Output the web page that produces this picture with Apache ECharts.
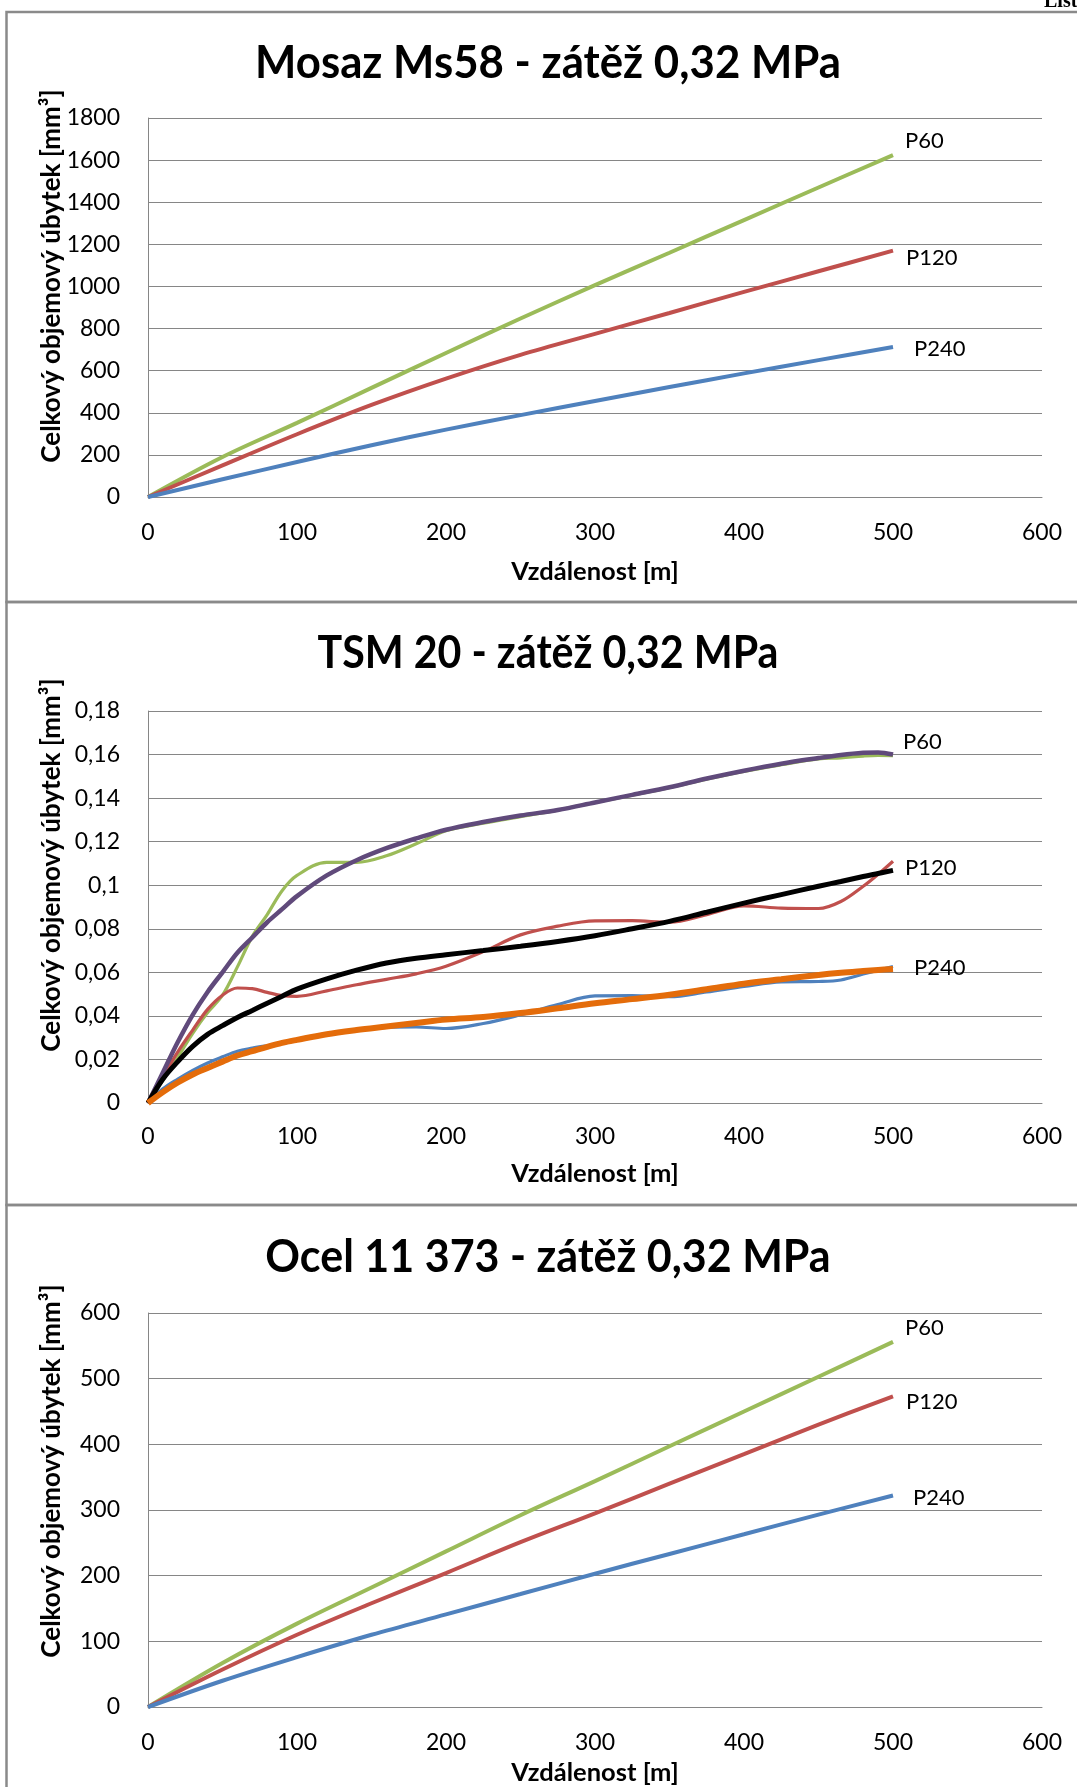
<!DOCTYPE html>
<html>
<head>
<meta charset="utf-8">
<script src="https://cdn.jsdelivr.net/npm/echarts/dist/echarts.min.js"></script>
<style>
  html, body { margin: 0; padding: 0; background: #ffffff; }
  #chart { width: 1077px; height: 1787px; }
</style>
</head>
<body>
<div id="chart"></div>
<script>
// Distances [m] for the brass and steel measurements
const dist = [0, 50, 100, 150, 200, 250, 300, 350, 400, 450, 500];

// Mosaz Ms58 – cumulative volume loss [mm³]
const mosazP60  = [0, 190, 352, 518, 684, 848, 1006, 1160, 1315, 1470, 1624];
const mosazP120 = [0, 150, 298, 437, 562, 675, 775, 874, 974, 1072, 1170];
const mosazP240 = [0, 84, 166, 246, 320, 389, 456, 522, 587, 650, 712];

// Ocel 11 373 – cumulative volume loss [mm³]
const ocelP60  = [0, 67, 127, 182, 237, 292, 344, 397, 450, 503, 556];
const ocelP120 = [0, 57, 110, 158, 204, 251, 295, 340, 385, 430, 473];
const ocelP240 = [0, 40, 76, 110, 141, 172, 203, 233, 263, 293, 322];

// TSM 20 – distances [m]
const tsmDist = [0, 10, 20, 30, 40, 50, 60, 70, 80, 90, 100, 120, 140, 160, 180, 200,
                 225, 250, 275, 300, 325, 350, 375, 400, 425, 450, 465, 480, 490, 500];
// TSM 20 – measured loss [mm³]
const tsmP60  = [0, 0.0105, 0.021, 0.032, 0.0415, 0.0495, 0.0625, 0.0765, 0.0865, 0.0975, 0.1045,
                 0.1105, 0.1105, 0.1135, 0.119, 0.125, 0.1285, 0.1315, 0.1345, 0.138, 0.1413,
                 0.1448, 0.1487, 0.1523, 0.1553, 0.158, 0.1585, 0.1593, 0.1596, 0.1595];
const tsmP120 = [0, 0.012, 0.0235, 0.0335, 0.043, 0.0495, 0.0528, 0.0525, 0.0508, 0.0493, 0.049,
                 0.0515, 0.0543, 0.0568, 0.0593, 0.0628, 0.0695, 0.0772, 0.0812, 0.0836, 0.0837,
                 0.083, 0.0865, 0.0905, 0.0895, 0.0893, 0.0925, 0.0995, 0.105, 0.111];
const tsmP240 = [0, 0.0065, 0.011, 0.015, 0.0184, 0.0212, 0.0238, 0.0252, 0.0263, 0.0273, 0.0288,
                 0.0316, 0.0336, 0.0347, 0.0349, 0.0342, 0.0365, 0.0405, 0.0452, 0.0492, 0.0493,
                 0.0488, 0.051, 0.0535, 0.0556, 0.0558, 0.0565, 0.0592, 0.061, 0.0627];
// TSM 20 – fitted trend curves [mm³]
const tsmFitP60  = [0, 0.014, 0.028, 0.0405, 0.051, 0.06, 0.069, 0.076, 0.083, 0.089, 0.095,
                    0.1045, 0.1115, 0.117, 0.1215, 0.1255, 0.129, 0.132, 0.1345, 0.138, 0.1415,
                    0.145, 0.149, 0.1526, 0.1558, 0.1584, 0.1598, 0.1608, 0.161, 0.16];
const tsmFitP120 = [0, 0.011, 0.019, 0.026, 0.0315, 0.0355, 0.0393, 0.0425, 0.0458, 0.049, 0.0523,
                    0.057, 0.061, 0.0643, 0.0665, 0.0681, 0.07, 0.072, 0.0742, 0.0768, 0.08,
                    0.0834, 0.0876, 0.0918, 0.0957, 0.0995, 0.1017, 0.104, 0.1054, 0.1068];
const tsmFitP240 = [0, 0.005, 0.0094, 0.0131, 0.0161, 0.019, 0.0218, 0.0238, 0.0258, 0.0276, 0.029,
                    0.0316, 0.0335, 0.0351, 0.0367, 0.0383, 0.0395, 0.0413, 0.0435, 0.0458, 0.0477,
                    0.0497, 0.0522, 0.0548, 0.0568, 0.0588, 0.0598, 0.0606, 0.0611, 0.0615];

// Axis ranges
const xMax = 600, xStep = 100;
const mosazYMax = 1800, mosazYStep = 200;
const tsmYMax = 0.18, tsmYStep = 0.02;
const ocelYMax = 600, ocelYStep = 100;

const titles = ['Mosaz Ms58 - zátěž 0,32 MPa', 'TSM 20 - zátěž 0,32 MPa', 'Ocel 11 373 - zátěž 0,32 MPa'];
const yTitle = 'Celkový objemový úbytek [mm³]';
const xTitle = 'Vzdálenost [m]';

const GREEN = '#9BBB59', RED = '#C0504D', BLUE = '#4F81BD';
const PURPLE = '#604A7B', ORANGE = '#E46C0A', BLACK = '#000000';
const GRID_COLOR = '#868686';
const FONT = 'Lato';

const grids = [
  { left: 148, top: 118, width: 894, height: 379 },
  { left: 148, top: 711, width: 894, height: 392 },
  { left: 148, top: 1313, width: 894, height: 398 }
];

function pairs(xs, ys) { return xs.map((x, i) => [x, ys[i]]); }

function xAxisFor(i, labelMargin, nameGap) {
  return {
    type: 'value', gridIndex: i, min: 0, max: xMax, interval: xStep,
    name: xTitle, nameLocation: 'middle', nameGap: nameGap,
    nameTextStyle: { fontFamily: FONT, fontWeight: 'bold', fontSize: 25.5, color: '#000' },
    axisLine: { show: true, onZero: false, lineStyle: { color: GRID_COLOR, width: 1 } },
    axisTick: { show: false },
    axisLabel: { fontFamily: FONT, fontSize: 23, color: '#000', margin: labelMargin },
    splitLine: { show: false }
  };
}

function yAxisFor(i, max, step, formatter) {
  return {
    type: 'value', gridIndex: i, min: 0, max: max, interval: step,
    axisLine: { show: true, lineStyle: { color: GRID_COLOR, width: 1 } },
    axisTick: { show: false },
    axisLabel: { fontFamily: FONT, fontSize: 23, color: '#000', margin: 28, formatter: formatter },
    splitLine: { show: true, lineStyle: { color: GRID_COLOR, width: 1 } }
  };
}

function endTag(text, dx, dy) {
  return {
    show: true, formatter: text, color: '#000', fontFamily: FONT, fontSize: 22,
    distance: 0, offset: [dx, dy]
  };
}

function line(name, axis, xs, ys, color, width, z, tag) {
  const s = {
    name: name, type: 'line', xAxisIndex: axis, yAxisIndex: axis,
    data: pairs(xs, ys), showSymbol: false, symbol: 'none', smooth: 0.35,
    lineStyle: { color: color, width: width }, itemStyle: { color: color }, z: z
  };
  if (tag) s.endLabel = tag;
  return s;
}

const plainFmt = v => String(v);
const commaFmt = v => v === 0 ? '0' : String(Math.round(v * 100) / 100).replace('.', ',');

const series = [
  // Mosaz Ms58
  line('P60', 0, dist, mosazP60, GREEN, 4, 3, endTag('P60', 12, -14)),
  line('P120', 0, dist, mosazP120, RED, 4, 3, endTag('P120', 13, 7)),
  line('P240', 0, dist, mosazP240, BLUE, 4, 3, endTag('P240', 21, 2)),
  // TSM 20 – measured
  line('P60 měření', 1, tsmDist, tsmP60, GREEN, 3.2, 2),
  line('P120 měření', 1, tsmDist, tsmP120, RED, 3.2, 2),
  line('P240 měření', 1, tsmDist, tsmP240, BLUE, 3.2, 2),
  // TSM 20 – trend
  line('P60', 1, tsmDist, tsmFitP60, PURPLE, 4.5, 4, endTag('P60', 10, -13)),
  line('P120', 1, tsmDist, tsmFitP120, BLACK, 5, 4, endTag('P120', 12, -3)),
  line('P240', 1, tsmDist, tsmFitP240, ORANGE, 6, 5, endTag('P240', 21, -1)),
  // Ocel 11 373
  line('P60', 2, dist, ocelP60, GREEN, 4, 3, endTag('P60', 12, -14)),
  line('P120', 2, dist, ocelP120, RED, 4, 3, endTag('P120', 13, 6)),
  line('P240', 2, dist, ocelP240, BLUE, 4, 3, endTag('P240', 20, 2))
];

// Panel frames, chart titles, vertical axis titles
const panelTops = [12, 602, 1205];
const panelHeights = [590, 603, 700];
const titleCenters = [63, 653, 1257];
const titleScaleX = [0.973, 0.915, 0.956];
const yTitleCenters = [276, 865, 1471];

const graphics = [];
panelTops.forEach((t, i) => {
  graphics.push({
    type: 'rect', z: 0, silent: true,
    shape: { x: 6.5, y: t, width: 1100, height: panelHeights[i] },
    style: { fill: 'none', stroke: '#8A8A8A', lineWidth: 2.5 }
  });
  graphics.push({
    type: 'text', z: 10, x: 548, y: titleCenters[i], scaleX: titleScaleX[i], silent: true,
    style: {
      text: titles[i], fill: '#000', fontFamily: FONT, fontWeight: 'bold', fontSize: 45,
      align: 'center', verticalAlign: 'middle', textAlign: 'center', textVerticalAlign: 'middle'
    }
  });
  graphics.push({
    type: 'text', z: 10, x: 52, y: yTitleCenters[i], rotation: Math.PI / 2, silent: true,
    style: {
      text: yTitle, fill: '#000', fontFamily: FONT, fontWeight: 'bold', fontSize: 26,
      align: 'center', verticalAlign: 'middle', textAlign: 'center', textVerticalAlign: 'middle'
    }
  });
});
// Page header fragment at the top edge
graphics.push({
  type: 'text', z: 10, x: 1044, y: 12, silent: true,
  style: {
    text: 'List', fill: '#000', fontFamily: 'Liberation Serif', fontWeight: 'bold', fontSize: 20,
    align: 'left', verticalAlign: 'bottom', textAlign: 'left', textVerticalAlign: 'bottom'
  }
});

const chart = echarts.init(document.getElementById('chart'), null, { renderer: 'canvas' });
chart.setOption({
  animation: false,
  backgroundColor: '#ffffff',
  grid: grids,
  xAxis: [xAxisFor(0, 24, 62), xAxisFor(1, 22, 58), xAxisFor(2, 24, 53)],
  yAxis: [
    yAxisFor(0, mosazYMax, mosazYStep, plainFmt),
    yAxisFor(1, tsmYMax, tsmYStep, commaFmt),
    yAxisFor(2, ocelYMax, ocelYStep, plainFmt)
  ],
  series: series,
  graphic: graphics
});
</script>
</body>
</html>
